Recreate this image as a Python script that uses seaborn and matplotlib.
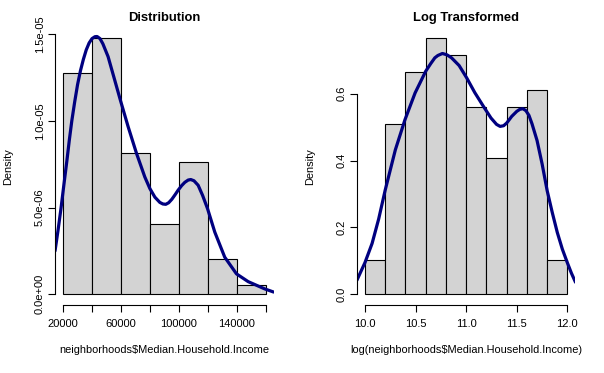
import numpy as np
import pandas as pd
import seaborn as sns
import matplotlib
matplotlib.use("Agg")
import matplotlib.pyplot as plt

sns.set_style("white", {'axes.labelcolor': 'black', 'text.color': 'black',
                        'xtick.color': 'black', 'ytick.color': 'black',
                        'xtick.bottom': True, 'ytick.left': True})
plt.rcParams['font.family'] = ['Liberation Sans', 'DejaVu Sans']

# histogram bins (98 neighbourhoods)
income_edges = [20000, 40000, 60000, 80000, 100000, 120000, 140000, 160000]
income_counts = [25, 29, 16, 8, 15, 4, 1]

log_edges = [10.0, 10.2, 10.4, 10.6, 10.8, 11.0, 11.2, 11.4, 11.6, 11.8, 12.0]
log_counts = [2, 10, 13, 15, 14, 11, 8, 11, 12, 2]

# density curves
income_kde_x = [14400, 16500, 18600, 20500, 22600, 24300, 26000, 28000, 30000, 32000,
                34000, 36000, 38000, 40000, 42000, 43500, 45500, 47500, 51100, 55100,
                59600, 65000, 70800, 76500, 80000, 83500, 86900, 89000, 91000, 93000,
                95200, 97500, 99500, 102000, 104200, 106500, 108300, 110500, 113400,
                116500, 119900, 124900, 131800, 139900, 148000, 159500, 165600]
income_kde_y = [0.250, 0.370, 0.500, 0.630, 0.770, 0.890, 1.000, 1.110, 1.210, 1.290,
                1.355, 1.410, 1.450, 1.475, 1.486, 1.487, 1.475, 1.445, 1.371, 1.253,
                1.120, 0.966, 0.812, 0.677, 0.610, 0.560, 0.530, 0.521, 0.519, 0.528,
                0.548, 0.575, 0.600, 0.627, 0.646, 0.659, 0.662, 0.655, 0.629,
                0.570, 0.494, 0.359, 0.214, 0.118, 0.073, 0.031, 0.013]
income_kde_y = [v * 1e-5 for v in income_kde_y]

log_kde_x = [9.92, 10.00, 10.07, 10.135, 10.20, 10.30, 10.395, 10.495, 10.60, 10.65,
             10.69, 10.72, 10.765, 10.81, 10.855, 10.93, 11.005, 11.085, 11.17, 11.245,
             11.30, 11.335, 11.37, 11.40, 11.45, 11.50, 11.53, 11.56, 11.59, 11.62,
             11.65, 11.70, 11.75, 11.80, 11.85, 11.90, 11.95, 12.00, 12.04, 12.08]
log_kde_y = [0.042, 0.095, 0.152, 0.225, 0.312, 0.432, 0.522, 0.602, 0.667, 0.690,
             0.707, 0.714, 0.720, 0.716, 0.707, 0.684, 0.647, 0.603, 0.562, 0.527,
             0.508, 0.502, 0.504, 0.512, 0.532, 0.547, 0.553, 0.555, 0.549, 0.535,
             0.510, 0.460, 0.390, 0.310, 0.245, 0.185, 0.135, 0.094, 0.063, 0.036]


def centers(edges):
    return [(a + b) / 2 for a, b in zip(edges[:-1], edges[1:])]


def r_style(ax, xt, xl, yt, yl, xlabel, title):
    for s in ['top', 'right']:
        ax.spines[s].set_visible(False)
    for s in ['left', 'bottom']:
        ax.spines[s].set_color('black')
        ax.spines[s].set_linewidth(0.8)
    ax.spines['bottom'].set_bounds(xt[0], xt[-1])
    ax.spines['left'].set_bounds(yt[0], yt[-1])
    ax.set_xticks(xt)
    ax.set_xticklabels(xl, fontsize=8.0)
    ax.set_yticks(yt)
    ax.set_yticklabels(yl, fontsize=8.0, rotation=90, va='center')
    ax.tick_params(axis='both', bottom=True, left=True, direction='out',
                   length=4.8, width=0.8, color='black', labelcolor='black')
    ax.tick_params(axis='x', pad=5.8)
    ax.tick_params(axis='y', pad=2.4)
    ax.set_xlabel(xlabel, fontsize=7.9, color='black')
    ax.xaxis.set_label_coords(0.5, -0.147)
    ax.set_ylabel('Density', fontsize=7.9, color='black')
    ax.yaxis.set_label_coords(-0.19, 0.5)
    ax.set_title(title, fontsize=9.4, fontweight='bold', pad=5.5, color='black')
    ax.grid(False)
    for ln in ax.lines:
        ln.set_solid_joinstyle('round')
        ln.set_solid_capstyle('round')


fig = plt.figure(figsize=(6.04, 3.73), dpi=100)
ax1 = fig.add_axes([0.0911, 0.1836, 0.3619, 0.7408])
ax2 = fig.add_axes([0.5909, 0.1836, 0.3619, 0.7408])

sns.histplot(x=centers(income_edges), weights=income_counts, bins=income_edges,
             stat='density', color='#D3D3D3', alpha=1, edgecolor='black',
             linewidth=0.8, ax=ax1)
sns.lineplot(x=income_kde_x, y=income_kde_y, color='#000080', linewidth=2.3, ax=ax1)
ax1.set_xlim(14400, 165600)
ax1.set_ylim(-0.059e-5, 1.535e-5)
r_style(ax1,
        [20000, 40000, 60000, 80000, 100000, 120000, 140000, 160000],
        ['20000', '', '60000', '', '100000', '', '140000', ''],
        [0, 0.5e-5, 1.0e-5, 1.5e-5],
        ['0.0e+00', '5.0e-06', '1.0e-05', '1.5e-05'],
        'neighborhoods$Median.Household.Income', 'Distribution')

sns.histplot(x=centers(log_edges), weights=log_counts, bins=log_edges,
             stat='density', color='#D3D3D3', alpha=1, edgecolor='black',
             linewidth=0.8, ax=ax2)
sns.lineplot(x=log_kde_x, y=log_kde_y, color='#000080', linewidth=2.3, ax=ax2)
ax2.set_xlim(9.92, 12.08)
ax2.set_ylim(-0.0306, 0.7956)
r_style(ax2,
        [10.0, 10.5, 11.0, 11.5, 12.0],
        ['10.0', '10.5', '11.0', '11.5', '12.0'],
        [0, 0.2, 0.4, 0.6],
        ['0.0', '0.2', '0.4', '0.6'],
        'log(neighborhoods$Median.Household.Income)', 'Log Transformed')

fig.savefig('out.png', dpi=100, facecolor='white')
